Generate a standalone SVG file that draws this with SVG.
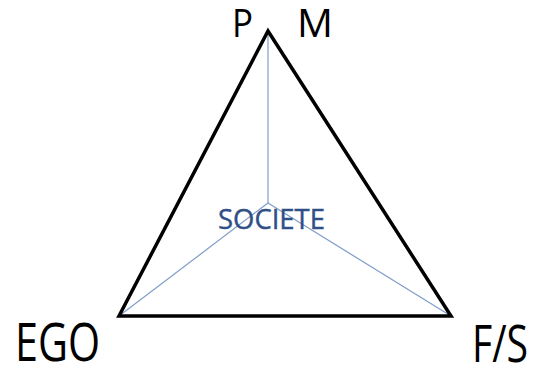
<svg xmlns="http://www.w3.org/2000/svg" width="536" height="365" viewBox="0 0 536 365">
<style>
.lbl{font-family:"Open Sans","Liberation Sans",sans-serif;fill:#000}
.tri{fill:none;stroke:#000;stroke-width:3.5;stroke-linejoin:miter}
.spoke{stroke:#7F9DC9;stroke-width:1.2;fill:none}
.soc{font-family:"Open Sans","Liberation Sans",sans-serif;fill:#2F4F86;stroke:#2F4F86;stroke-width:0.4}
</style>
<rect width="536" height="365" fill="#fff"/>
<g id="connectors">
<line class="spoke" x1="268" y1="203" x2="268" y2="31"/>
<line class="spoke" x1="268" y1="203" x2="119" y2="316"/>
<line class="spoke" x1="268" y1="203" x2="451" y2="316"/>
</g>
<g id="triangle">
<polygon class="tri" points="268,31 451,316 119,316"/>
</g>
<g id="node-P"><text class="lbl" x="232" y="37" font-size="38" textLength="21" lengthAdjust="spacingAndGlyphs">P</text></g>
<g id="node-M"><text class="lbl" x="297" y="37" font-size="38" textLength="36" lengthAdjust="spacingAndGlyphs">M</text></g>
<g id="node-EGO"><text class="lbl" x="15" y="361" font-size="53" textLength="85" lengthAdjust="spacingAndGlyphs">EGO</text></g>
<g id="node-FS"><text class="lbl" x="472" y="362" font-size="52" textLength="56" lengthAdjust="spacingAndGlyphs">F/S</text></g>
<g id="node-SOCIETE"><text class="soc" x="218" y="229" font-size="27" textLength="107" lengthAdjust="spacingAndGlyphs">SOCIETE</text></g>
</svg>
